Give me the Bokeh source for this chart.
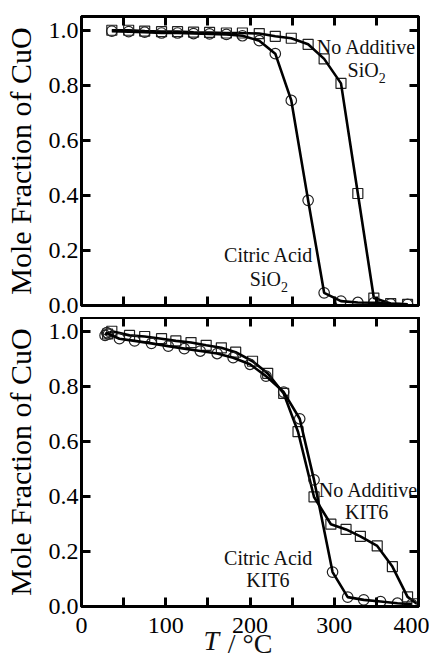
from bokeh.plotting import figure
from bokeh.models import LinearAxis, FixedTicker, PrintfTickFormatter, Label, Range1d
from bokeh.layouts import column
from bokeh.embed import file_html
from bokeh.resources import INLINE

# ---- data: top panel (SiO2) ----
sio2_x = [36, 56, 75, 95, 114, 133, 152, 172, 191, 211, 230, 249, 269, 288, 308, 328, 347, 367, 387]
sio2_noadd = [1.0, 1.0, 0.997, 0.995, 0.995, 0.993, 0.992, 0.99, 0.99, 0.988, 0.978, 0.971, 0.949,
              0.896, 0.807, 0.407, 0.027, 0.007, 0.004]
sio2_citric = [0.997, 0.995, 0.993, 0.99, 0.99, 0.988, 0.987, 0.985, 0.98, 0.962, 0.915, 0.745, 0.382,
               0.046, 0.016, 0.011, 0.01, 0.006, 0.004]

# ---- data: bottom panel (KIT6) ----
kit_noadd_x = [31, 36, 57, 75, 95, 112, 130, 148, 166, 183, 203, 221, 240, 257, 276, 296, 314, 331,
               351, 369, 387, 398]
kit_noadd = [0.99, 1.0, 0.985, 0.981, 0.973, 0.965, 0.959, 0.949, 0.94, 0.924, 0.891, 0.847, 0.774,
             0.635, 0.398, 0.299, 0.28, 0.255, 0.22, 0.145, 0.035, 0.01]
kit_citric_x = [28, 30, 32, 45, 63, 83, 103, 122, 141, 161, 180, 200, 219, 240, 259, 276, 298, 316,
                335, 355, 375, 392]
kit_citric = [0.985, 0.995, 0.99, 0.973, 0.965, 0.956, 0.946, 0.937, 0.928, 0.919, 0.904, 0.88, 0.837,
              0.779, 0.682, 0.46, 0.125, 0.034, 0.024, 0.018, 0.012, 0.008]

x_ticks = [0, 100, 200, 300, 400]
x_minor = [50, 150, 250, 350]
y_ticks = [0.0, 0.2, 0.4, 0.6, 0.8, 1.0]

FONT = "Liberation Serif"
W = 429
BL, BR = 80, 11


def style_axis(ax, labels=True, xaxis=True):
    ax.ticker = FixedTicker(ticks=x_ticks, minor_ticks=x_minor) if xaxis else FixedTicker(ticks=y_ticks)
    ax.axis_line_width = 3
    ax.axis_line_color = "black"
    ax.major_tick_in = 9
    ax.major_tick_out = 0
    ax.minor_tick_in = 9
    ax.minor_tick_out = 0
    ax.major_tick_line_width = 3
    ax.minor_tick_line_width = 3
    ax.major_tick_line_color = "black"
    ax.minor_tick_line_color = "black"
    ax.major_label_text_font = FONT
    ax.major_label_text_font_size = "24px"
    ax.major_label_text_line_height = 1.0
    if labels:
        ax.major_label_text_color = "black"
        ax.major_label_standoff = 11 if xaxis else 3
        if not xaxis:
            ax.formatter = PrintfTickFormatter(format="%.1f")
    else:
        ax.major_label_text_color = None
        ax.major_label_standoff = 0


def make_fig(top, bottom, xlabels):
    p = figure(width=W, height=top + 289 + bottom, x_range=Range1d(0, 400), y_range=Range1d(0, 1.05),
               output_backend="svg", toolbar_location=None,
               min_border_left=BL, min_border_right=BR, min_border_top=top, min_border_bottom=bottom)
    p.grid.visible = False
    p.outline_line_width = 3
    p.outline_line_color = "black"
    p.outline_line_alpha = 1
    p.background_fill_color = "white"
    p.border_fill_color = "white"
    style_axis(p.xaxis[0], labels=xlabels, xaxis=True)
    style_axis(p.yaxis[0], labels=True, xaxis=False)
    p.yaxis[0].axis_label = "Mole Fraction of CuO"
    p.yaxis[0].axis_label_text_font = FONT
    p.yaxis[0].axis_label_text_font_size = "30px"
    p.yaxis[0].axis_label_text_font_style = "normal"
    p.yaxis[0].axis_label_text_color = "black"
    p.yaxis[0].axis_label_text_line_height = 1.0
    p.yaxis[0].axis_label_standoff = 9
    ax_top = LinearAxis()
    style_axis(ax_top, labels=False, xaxis=True)
    p.add_layout(ax_top, "above")
    ax_right = LinearAxis()
    style_axis(ax_right, labels=False, xaxis=False)
    p.add_layout(ax_right, "right")
    return p


def series(p, x, y, marker):
    if marker == "square":
        p.scatter(x, y, marker="square", size=10, fill_color=None, line_color="#222222", line_width=1.2)
    else:
        p.scatter(x, y, marker="circle", size=10.5, fill_color=None, line_color="#222222", line_width=1.2)
    p.line(x, y, line_color="black", line_width=2.6)


def add_text(p, x, y, text, size="20px", align="left", yoff=0, style="normal"):
    p.add_layout(Label(x=x, y=y, text=text, text_font=FONT, text_font_size=size,
                       text_align=align, text_baseline="alphabetic", y_offset=yoff,
                       text_color="#111111", text_font_style=style))


# top panel
p1 = make_fig(16, 12, False)
series(p1, sio2_x, sio2_noadd, "square")
series(p1, sio2_x, sio2_citric, "circle")
add_text(p1, 279.3, 0.938, "No Additive")
add_text(p1, 352.7, 0.855, "SiO", align="right")
add_text(p1, 352.7, 0.855, "2", size="14px", yoff=-8)
add_text(p1, 169.2, 0.182, "Citric Acid")
add_text(p1, 236.7, 0.098, "SiO", align="right")
add_text(p1, 236.7, 0.098, "2", size="14px", yoff=-8)

# bottom panel
p2 = make_fig(0, 57, True)
series(p2, kit_noadd_x, kit_noadd, "square")
series(p2, kit_citric_x, kit_citric, "circle")
add_text(p2, 281.7, 0.423, "No Additive")
add_text(p2, 338.5, 0.343, "KIT6", align="center")
add_text(p2, 169.2, 0.175, "Citric Acid")
add_text(p2, 221.3, 0.095, "KIT6", align="center")

# x-axis title "T / °C": italic T as a label of a second bottom axis, "/ °C" as its axis title
T_POS = 154
ax_title = LinearAxis(ticker=FixedTicker(ticks=[T_POS]), major_label_overrides={T_POS: "T"})
ax_title.axis_line_color = None
ax_title.major_tick_line_color = None
ax_title.minor_tick_line_color = None
ax_title.major_tick_in = 0
ax_title.major_tick_out = 0
ax_title.major_label_text_font = FONT
ax_title.major_label_text_font_size = "28px"
ax_title.major_label_text_font_style = "italic"
ax_title.major_label_text_color = "#111111"
ax_title.major_label_text_line_height = 1.0
ax_title.major_label_standoff = -11
ax_title.axis_label = "/ °C"
ax_title.axis_label_text_font = FONT
ax_title.axis_label_text_font_size = "28px"
ax_title.axis_label_text_font_style = "normal"
ax_title.axis_label_text_color = "#111111"
ax_title.axis_label_text_line_height = 1.0
ax_title.axis_label_standoff = -31
p2.add_layout(ax_title, "below")

layout = column(p1, p2, spacing=0)
open("out.html", "w").write(file_html(layout, INLINE))
